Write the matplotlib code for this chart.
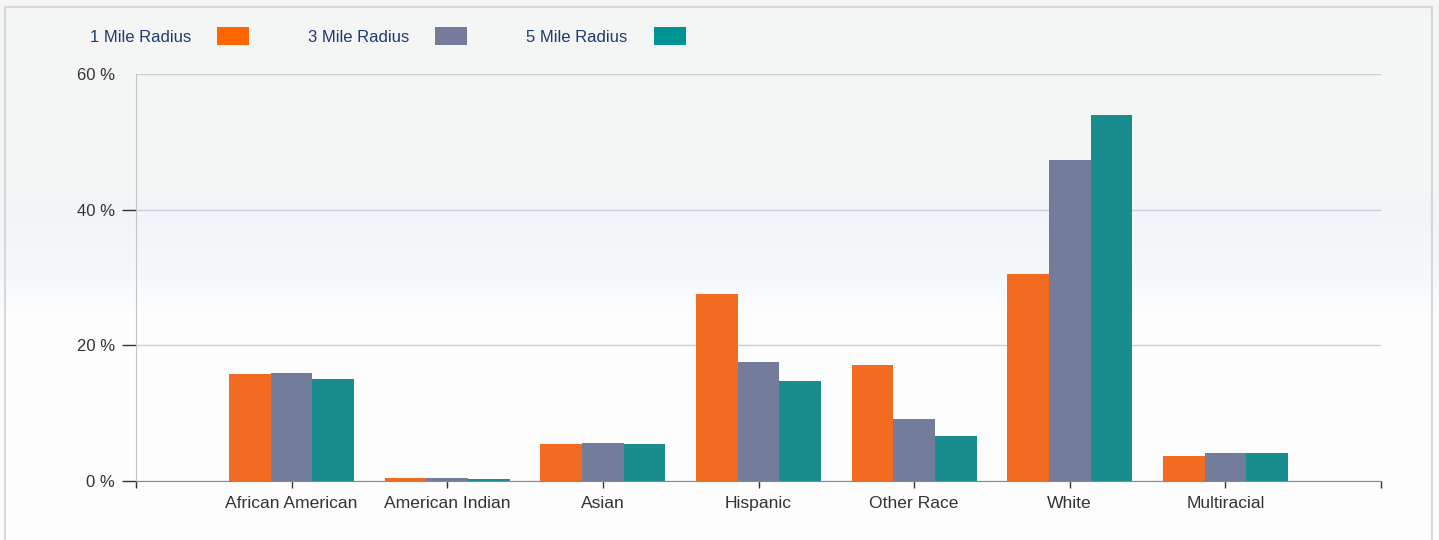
import numpy as np
import matplotlib
matplotlib.use("Agg")
import matplotlib.pyplot as plt
from matplotlib.patches import Patch, Rectangle
from matplotlib.colors import to_rgb

# --- Datos ---
categorias = ["African American", "American Indian", "Asian", "Hispanic",
              "Other Race", "White", "Multiracial"]
series = ["1 Mile Radius", "3 Mile Radius", "5 Mile Radius"]
radio_1 = [15.8, 0.5, 5.5, 27.6, 17.1, 30.5, 3.7]
radio_3 = [15.9, 0.4, 5.6, 17.5, 9.1, 47.3, 4.1]
radio_5 = [15.0, 0.3, 5.4, 14.7, 6.6, 54.0, 4.1]
yticks = [0, 20, 40, 60]

colores_barra = ["#f26b21", "#737c9a", "#198c8e"]
colores_leyenda = ["#ff6600", "#747b9b", "#009393"]

plt.rcParams["font.family"] = ["Liberation Sans", "DejaVu Sans"]

fig = plt.figure(figsize=(14.39, 5.4), dpi=100)

# --- Fondo con degradado ---
bg = fig.add_axes([0, 0, 1, 1], zorder=-10)
bg.set_axis_off()
pos = np.array([0, 190, 215, 280, 320, 540]) / 540
cols = np.array([to_rgb(c) for c in ["#f5f5f5", "#f4f5f6", "#f1f5f9", "#f6f9fb", "#fefefe", "#fdfdfd"]])
yy = np.linspace(0, 1, 540)
grad = np.stack([np.interp(yy, pos, cols[:, k]) for k in range(3)], axis=-1)
bg.imshow(grad[:, None, :], aspect="auto", extent=[0, 1, 0, 1], origin="upper")
bg.set_xlim(0, 1)
bg.set_ylim(0, 1)
bg.add_patch(Rectangle((5 / 1439, -0.05), 1427 / 1439, 1.05 - 7 / 540,
                       fill=False, edgecolor="#d8d8d8", linewidth=1.5))

# --- Gráfico ---
ax = fig.add_axes([136 / 1439, 1 - 481 / 540, 1245 / 1439, 407 / 540])
ax.set_facecolor("none")

x = np.arange(1, len(categorias) + 1)
ancho = 0.268
for i, (vals, c) in enumerate(zip([radio_1, radio_3, radio_5], colores_barra)):
    ax.bar(x + (i - 1) * ancho, vals, width=ancho, color=c, zorder=3)

ax.set_xlim(0, 8)
ax.set_ylim(0, 60)
ax.set_yticks(yticks)
ax.set_yticklabels([f"{v} %" for v in yticks], fontsize=12, color="#333333")
ax.yaxis.grid(True, color="#c9cdd2", linewidth=1, zorder=0)
ax.set_axisbelow(True)
ax.tick_params(axis="y", length=10, width=1, color="#333333", pad=5)
ax.yaxis.get_major_ticks()[-1].tick1line.set_visible(False)

ax.set_xticks(np.arange(0, 9))
ax.set_xticklabels([""] + categorias + [""], fontsize=12.6, color="#333333")
ax.tick_params(axis="x", length=5, width=1, color="#333333", pad=6)

for s in ["top", "right"]:
    ax.spines[s].set_visible(False)
ax.spines["left"].set_color("#c4c4c4")
ax.spines["bottom"].set_color("#8a8a8a")
ax.spines["bottom"].set_zorder(4)

# --- Leyenda ---
handles = [Patch(facecolor=c, edgecolor="none") for c in colores_leyenda]
fig.legend(handles, series, loc="upper left", bbox_to_anchor=(90 / 1439, 1 - 27 / 540),
           ncol=3, frameon=False, markerfirst=False, fontsize=12,
           handlelength=1.92, handleheight=1.32, handletextpad=1.55,
           columnspacing=3.55, borderpad=0, borderaxespad=0, labelcolor="#1f3a6e")

fig.savefig("out.png", dpi=100)
